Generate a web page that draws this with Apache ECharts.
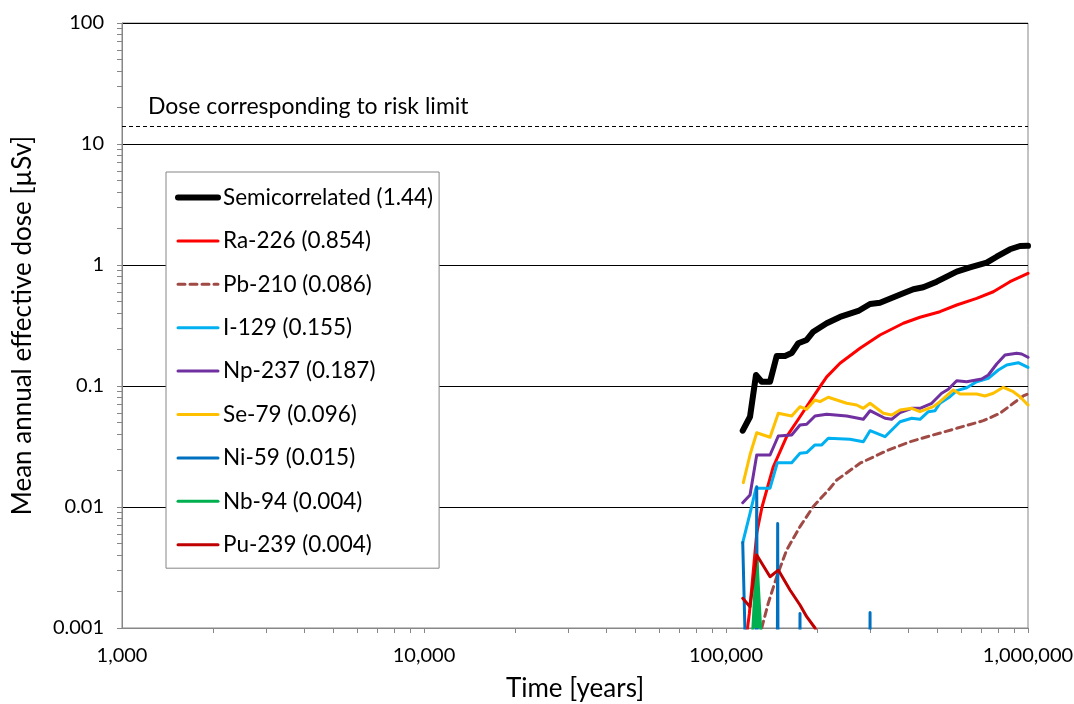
<!DOCTYPE html>
<html>
<head>
<meta charset="utf-8">
<script src="https://cdn.jsdelivr.net/npm/echarts@6/dist/echarts.min.js"></script>
<style>
html,body{margin:0;padding:0;background:#fff;}
#chart{width:1074px;height:704px;}
</style>
</head>
<body>
<div id="chart"></div>
<script>
// ---- Data (time in years, dose in µSv) ----
const seriesNames = ['Semicorrelated (1.44)','Ra-226 (0.854)','Pb-210 (0.086)','I-129 (0.155)','Np-237 (0.187)','Se-79 (0.096)','Ni-59 (0.015)','Nb-94 (0.004)','Pu-239 (0.004)'];
const xTickLabels = ['1,000','10,000','100,000','1,000,000'];
const yTickLabels = ['0.001','0.01','0.1','1','10','100'];
const doseLimit = 14;

const semicorrelated = [[113600,0.0427],[120100,0.0557],[125700,0.1233],[131300,0.1085],[139900,0.1085],[147200,0.177],[156800,0.177],[165000,0.1875],[173500,0.2254],[185000,0.240],[194600,0.281],[215500,0.330],[238500,0.372],[274200,0.417],[299900,0.476],[323600,0.488],[340600,0.514],[386500,0.584],[417200,0.630],[450100,0.654],[498600,0.728],[580700,0.881],[642600,0.957],[729900,1.045],[787600,1.171],[871600,1.349],[940800,1.436],[1000000,1.44]];
const ra226 = [[116500,0.0008],[119500,0.00132],[126400,0.00606],[131600,0.0100],[143400,0.0215],[158800,0.0381],[175800,0.0557],[185000,0.0675],[194600,0.0816],[204800,0.0987],[215500,0.119],[238500,0.154],[277800,0.205],[323600,0.264],[386500,0.330],[438900,0.370],[511000,0.411],[580700,0.467],[676200,0.530],[767600,0.601],[871600,0.728],[1000000,0.854]];
const pb210 = [[129000,0.0008],[131300,0.0010],[138000,0.0016],[147200,0.00265],[158800,0.00441],[175800,0.00688],[194600,0.0101],[221000,0.0143],[232600,0.0167],[277800,0.0230],[340600,0.0292],[406800,0.0346],[485800,0.0394],[580700,0.0447],[711200,0.0517],[807700,0.0595],[893900,0.072],[964700,0.0827],[1000000,0.086]];
const i129 = [[113600,0.00507],[120100,0.00887],[125700,0.0143],[139900,0.0143],[147900,0.0232],[165000,0.0232],[175800,0.0278],[185000,0.0282],[197100,0.0326],[207500,0.0326],[218100,0.0370],[257400,0.0363],[284900,0.0346],[299900,0.0427],[336100,0.0381],[377000,0.0507],[412100,0.0541],[438900,0.0531],[467700,0.0613],[492200,0.0625],[511000,0.0720],[551700,0.0816],[580700,0.0915],[626600,0.0968],[676200,0.1085],[738900,0.1158],[797500,0.1356],[850200,0.1491],[928800,0.1558],[1000000,0.1427]];
const np237 = [[113600,0.01085],[120100,0.01257],[126400,0.0269],[139900,0.0269],[149000,0.0386],[165000,0.0394],[175800,0.0476],[185000,0.0483],[197100,0.0565],[215500,0.0584],[251000,0.0565],[284900,0.0531],[299900,0.0625],[336100,0.0541],[353800,0.0531],[377000,0.0602],[412100,0.0654],[438900,0.0654],[479900,0.0720],[517700,0.0871],[544700,0.0939],[580700,0.1106],[626600,0.1085],[702600,0.1143],[738900,0.1233],[787600,0.152],[839200,0.1804],[917600,0.1863],[953000,0.1839],[1000000,0.1727]];
const se79 = [[114100,0.0159],[120100,0.0270],[126400,0.0411],[139900,0.0377],[149000,0.0595],[165000,0.0565],[175800,0.0675],[185000,0.0642],[197100,0.0766],[204800,0.0742],[218100,0.0807],[251000,0.0720],[270900,0.0697],[284900,0.0654],[299900,0.0720],[331800,0.0595],[353800,0.0576],[377000,0.0633],[412100,0.0654],[438900,0.0613],[485800,0.0675],[511000,0.0742],[565800,0.0927],[595500,0.0859],[676200,0.0859],[720500,0.0827],[767600,0.0871],[828300,0.0976],[893900,0.0897],[940800,0.0816],[1000000,0.0697]];
const ni59 = [[113600,0.0051],[121000,0.00001],[125300,0.00001],[126400,0.0147],[127500,0.00001],[147300,0.00001],[148300,0.0073],[149300,0.00001],[175000,0.00001],[175800,0.00132],[176600,0.00001],[299000,0.00001],[299900,0.00134],[300800,0.00001],[1000000,0.00001]];
const nb94 = [[122500,0.0009],[126400,0.0040],[130500,0.0009]];
const pu239 = [[113600,0.00176],[120100,0.0015],[126400,0.00401],[139900,0.00265],[149000,0.00301],[162900,0.00206],[175800,0.00155],[185000,0.00124],[197100,0.0010],[203000,0.0008]];

const seriesData = [semicorrelated, ra226, pb210, i129, np237, se79, ni59, nb94, pu239];
const colors = ['#000000','#FF0000','#A04A45','#00B0F0','#7030A0','#FFC000','#0070C0','#00B050','#C00000'];
const widths = [6,3,3,3,3,3,3,3,3];

// tick positions on log axes (1..9 in each decade)
function logMinorTicks(lo, hi){
  const out = [];
  for (let d = lo; d < hi * 0.999; d *= 10){
    for (let k = 1; k < 10; k++) out.push(d*k);
  }
  out.push(hi);
  return out;
}
const xTickVals = logMinorTicks(1000, 1000000);
const yTickVals = logMinorTicks(0.001, 100);
const majorX = [1000,10000,100000,1000000];
const majorY = [0.001,0.01,0.1,1,10,100];

const FONT = 'Lato';

function pick(labels, majors, v){
  const i = majors.findIndex(m => Math.abs(Math.log10(m) - Math.log10(v)) < 1e-6);
  return i >= 0 ? labels[i] : '';
}

const series = seriesData.map((d, i) => {
  const s = {
    name: seriesNames[i],
    type: 'line',
    data: d,
    symbol: 'none',
    showSymbol: false,
    clip: true,
    z: 2 + i,
    lineStyle: {color: colors[i], width: widths[i], type: i === 2 ? [7,5] : 'solid', join: 'round', cap: 'round'},
    itemStyle: {color: colors[i]},
    emphasis: {disabled: true},
    animation: false
  };
  if (i === 7) s.areaStyle = {color: colors[i], opacity: 1};
  return s;
});
series.push({
  name: 'limit',
  type: 'line',
  data: [],
  symbol: 'none',
  animation: false,
  markLine: {
    silent: true,
    symbol: 'none',
    animation: false,
    lineStyle: {color: '#000', width: 1, type: [4,3]},
    label: {
      show: true,
      position: 'insideStartTop',
      formatter: 'Dose corresponding to risk limit',
      color: '#000',
      fontFamily: FONT,
      fontSize: 23,
      distance: [26, 8]
    },
    data: [{yAxis: doseLimit}]
  }
});

const baseY = {type: 'log', logBase: 10, min: 0.001, max: 100, position: 'left'};
const baseX = {type: 'log', logBase: 10, min: 1000, max: 1000000, position: 'bottom'};

const legendData = seriesNames.map((n, i) => ({name: n, lineStyle: {width: widths[i]}}));

const chart = echarts.init(document.getElementById('chart'), null, {renderer: 'canvas'});
chart.setOption({
  backgroundColor: '#fff',
  animation: false,
  grid: {left: 122, right: 46, top: 23, bottom: 76, containLabel: false, outerBoundsMode: 'none',
         show: true, borderColor: '#868686', borderWidth: 1, backgroundColor: 'transparent'},
  legend: {
    orient: 'vertical',
    left: 166, top: 172,
    data: legendData,
    backgroundColor: '#fff',
    borderColor: '#868686',
    borderWidth: 1,
    padding: [14, 6, 12, 9],
    itemGap: 20.4,
    itemWidth: 40,
    itemHeight: 14,
    selectedMode: false,
    itemStyle: {opacity: 0},
    textStyle: {fontFamily: FONT, fontSize: 22.5, color: '#000', lineHeight: 22}
  },
  xAxis: [
    Object.assign({}, baseX, {
      name: 'Time [years]', nameLocation: 'middle', nameGap: 48,
      nameTextStyle: {fontFamily: FONT, fontSize: 26, color: '#000'},
      axisLine: {show: true, lineStyle: {color: '#868686', width: 1}},
      axisTick: {show: true, length: 5, inside: false, customValues: xTickVals, lineStyle: {color: '#868686'}},
      axisLabel: {show: true, margin: 18, fontFamily: FONT, fontSize: 20, color: '#000',
        formatter: v => pick(xTickLabels, majorX, v)},
      splitLine: {show: false},
      minorTick: {show: false}
    })
  ],
  yAxis: [
    Object.assign({}, baseY, {
      name: 'Mean annual effective dose [µSv]', nameLocation: 'middle', nameGap: 86,
      nameTextStyle: {fontFamily: FONT, fontSize: 26, color: '#000'},
      axisLine: {show: true, lineStyle: {color: '#868686', width: 1}},
      axisTick: {show: true, length: 5, inside: false, lineStyle: {color: '#868686'}},
      axisLabel: {show: true, margin: 18, fontFamily: FONT, fontSize: 20, color: '#000',
        formatter: v => pick(yTickLabels, majorY, v)},
      splitLine: {show: true, lineStyle: {color: '#000', width: 1}},
      minorTick: {show: false}
    }),
    Object.assign({}, baseY, {
      axisLine: {show: false},
      axisTick: {show: true, length: 5, inside: false, customValues: yTickVals, lineStyle: {color: '#868686'}},
      axisLabel: {show: false},
      splitLine: {show: false},
      minorTick: {show: false}
    })
  ],
  series: series
});
</script>
</body>
</html>
